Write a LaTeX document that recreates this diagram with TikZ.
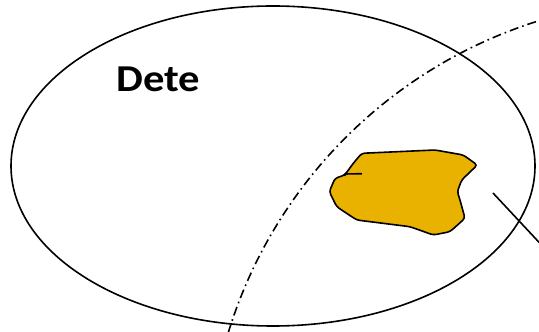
\documentclass[tikz,border=0pt]{standalone}
\usepackage{fontspec}
\setmainfont{Carlito}
\usepackage{xcolor}
\usetikzlibrary{positioning, calc}
\definecolor{blobgold}{RGB}{233,177,0}

\begin{document}
\begin{tikzpicture}[x=1pt, y=1pt, line width=1.6pt]

    % 1. Frame of the picture
    \useasboundingbox (0,0) rectangle (539,332);
    \clip (0,0) rectangle (539,332);

    % 2. Main ellipse
    \def\ex{273}
    \def\ey{166}
    \draw (\ex,\ey) ellipse [x radius=262, y radius=160];

    % 3. Label
    \node[anchor=base, font=\bfseries\fontsize{38}{42}\selectfont, xscale=1.12, inner sep=0] (lbl) at (158.5,240) {Dete};

    % 4. Dash-dotted circle boundary
    \coordinate (cc) at (679,-139);
    \draw[dash pattern=on 9pt off 4pt on 1.6pt off 4pt] ($(cc)+(163:471.5)$) arc[start angle=163, end angle=100, radius=471.5];

    % 5. Golden blob
    \draw[fill=blobgold, rounded corners=3pt] (361.7,178.7) -- (435,182) -- (463.3,177) -- (477.3,167)
        -- (461.7,152) -- (457.3,140.3) -- (460,132) -- (465,113.7) -- (450,100.3) -- (433.3,97)
        -- (410,105.3) -- (356.7,112) -- (336.7,125.3) -- (329.3,140.3) -- (335,153.7) -- (345,157)
        -- (346,158.7) -- (353.3,168.7) -- cycle;
    % Notch stroke inside the blob
    \draw (345,158) -- (362,158.3);

    % 6. Pointer line to the right
    \coordinate (p1) at (493,139);
    \coordinate (p2) at (549,79);
    \draw (p1) -- (p2);

\end{tikzpicture}
\end{document}
